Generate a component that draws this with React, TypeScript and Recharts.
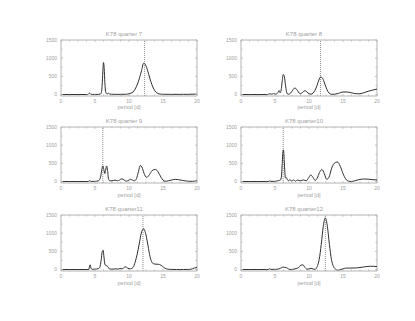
import React from 'react';
import { LineChart, Line, XAxis, YAxis, ReferenceLine } from 'recharts';

// ---------- data ----------
const titles = ['K78 quarter 7', 'K78 quarter 8', 'K78 quarter 9', 'K78 quarter10', 'K78 quarter11', 'K78 quarter12'];
const xLabel = 'period [d]';
const xTicks = [0, 5, 10, 15, 20];
const xMinorTicks = [0, 1.25, 2.5, 3.75, 5, 6.25, 7.5, 8.75, 10, 11.25, 12.5, 13.75, 15, 16.25, 17.5, 18.75, 20];
const yTicks = [0, 500, 1000, 1500];
const yMinorTicks = [0, 250, 500, 750, 1000, 1250, 1500];
const xDomain = [0, 20];
const yDomain = [-40, 1500];
const markPeriods = [12.3, 11.7, 6.15, 6.2, 12.05, 12.4];

const q7Period = [0, 3.8, 4.05, 4.2, 4.35, 4.6, 5.5, 5.8, 5.95, 6.05, 6.15, 6.25, 6.35, 6.45, 6.55, 6.7, 6.85, 7.0, 7.15, 7.4, 8.5, 9.5, 10.0, 10.3, 10.6, 10.9, 11.25, 11.55, 11.85, 12.15, 12.45, 12.75, 13.05, 13.35, 13.65, 13.95, 14.25, 14.6, 15.0, 16.0, 18.0, 20.0];
const q7Power = [0, 2, 15, 40, 12, 3, 5, 15, 60, 250, 620, 880, 720, 330, 90, 25, 20, 35, 15, 8, 5, 8, 20, 40, 70, 150, 290, 460, 660, 860, 810, 650, 455, 280, 150, 70, 30, 12, 8, 5, 5, 10];

const q8Period = [0, 3.9, 4.2, 4.5, 4.8, 5.1, 5.3, 5.45, 5.6, 5.75, 5.9, 6.05, 6.2, 6.35, 6.5, 6.65, 6.8, 7.0, 7.3, 7.6, 7.85, 8.05, 8.3, 8.55, 8.75, 9.0, 9.25, 9.45, 9.7, 10.0, 10.3, 10.6, 10.9, 11.2, 11.45, 11.7, 11.95, 12.2, 12.5, 12.8, 13.1, 13.4, 13.8, 14.3, 15.0, 15.6, 16.2, 16.8, 17.3, 18.0, 18.7, 19.4, 20.0];
const q8Power = [0, 0, 20, 10, 25, 10, 25, 60, 110, 50, 120, 350, 550, 520, 320, 120, 20, 10, 40, 120, 175, 170, 110, 40, 25, 50, 95, 105, 70, 20, 10, 40, 120, 260, 400, 480, 460, 360, 200, 80, 20, 5, 10, 30, 70, 70, 50, 25, 20, 45, 90, 125, 150];

const q9Period = [0, 4.0, 4.2, 4.4, 5.0, 5.5, 5.7, 5.85, 6.0, 6.15, 6.3, 6.45, 6.55, 6.7, 6.85, 7.0, 7.2, 7.5, 7.95, 8.3, 8.6, 8.95, 9.3, 9.6, 9.9, 10.2, 10.5, 10.8, 11.1, 11.4, 11.65, 11.9, 12.2, 12.6, 13.0, 13.4, 13.9, 14.3, 14.7, 15.0, 15.3, 15.8, 16.3, 16.8, 17.3, 17.9, 18.6, 19.3, 20.0];
const q9Power = [0, 0, 20, 5, 5, 20, 60, 150, 330, 430, 330, 220, 300, 430, 300, 60, 20, 20, 40, 20, 40, 75, 40, 10, 30, 60, 40, 20, 80, 280, 440, 400, 230, 115, 190, 300, 335, 260, 120, 40, 5, 20, 45, 60, 50, 30, 10, 5, 20];

const q10Period = [0, 4.0, 4.2, 4.4, 5.0, 5.5, 5.8, 5.95, 6.05, 6.15, 6.25, 6.35, 6.45, 6.55, 6.65, 6.8, 7.0, 7.2, 7.45, 7.7, 8.0, 8.3, 8.7, 9.2, 9.6, 9.9, 10.25, 10.6, 10.9, 11.2, 11.55, 11.9, 12.25, 12.6, 12.95, 13.3, 13.7, 14.15, 14.6, 15.0, 15.4, 15.8, 16.2, 16.7, 17.3, 18.0, 18.7, 19.4, 20.0];
const q10Power = [0, 0, 15, 5, 5, 25, 40, 150, 450, 800, 870, 600, 250, 100, 115, 60, 20, 50, 15, 45, 10, 40, 20, 45, 20, 90, 180, 110, 30, 90, 250, 330, 220, 60, 120, 350, 500, 540, 420, 220, 70, 10, 0, 20, 50, 70, 65, 50, 45];

const q11Period = [0, 4.1, 4.2, 4.3, 4.4, 4.6, 5.2, 5.5, 5.7, 5.9, 6.05, 6.2, 6.3, 6.45, 6.6, 6.75, 6.9, 7.1, 7.5, 8.1, 8.4, 8.7, 9.0, 9.45, 9.8, 10.2, 10.6, 10.9, 11.2, 11.5, 11.8, 12.15, 12.5, 12.8, 13.1, 13.4, 13.8, 14.3, 14.7, 15.1, 15.5, 16.0, 17.0, 18.0, 19.0, 19.6, 20.0];
const q11Power = [0, 0, 100, 130, 40, 5, 15, 25, 60, 250, 480, 530, 380, 150, 110, 100, 80, 20, 10, 20, 10, 30, 20, 75, 40, 20, 60, 200, 420, 700, 1000, 1120, 950, 650, 350, 190, 150, 145, 120, 60, 20, 5, 0, 0, 5, 40, 60];

const q12Period = [0, 4.0, 4.2, 4.4, 5.0, 5.5, 5.8, 6.0, 6.2, 6.4, 6.7, 7.0, 7.4, 7.8, 8.1, 8.5, 8.8, 9.1, 9.4, 9.7, 10.0, 10.3, 10.6, 10.9, 11.2, 11.5, 11.8, 12.1, 12.4, 12.7, 13.0, 13.3, 13.6, 13.9, 14.2, 14.5, 15.0, 15.5, 16.0, 17.0, 18.0, 19.0, 19.5, 20.0];
const q12Power = [0, 0, 20, 5, 5, 15, 35, 55, 70, 60, 50, 15, 0, 15, 25, 60, 120, 130, 60, 10, 15, 35, 15, 5, 80, 280, 690, 1190, 1420, 1190, 690, 280, 80, 15, -20, -10, 20, 40, 40, 45, 70, 90, 90, 80];

const periods = [q7Period, q8Period, q9Period, q10Period, q11Period, q12Period];
const powers = [q7Power, q8Power, q9Power, q10Power, q11Power, q12Power];

// ---------- layout ----------
const PLOT_W = 136;
const PLOT_H = 56;
const ML = 30, MT = 10, MR = 8, MB = 12;
const colLefts = [61, 241];
const rowTops = [39.5, 127, 215];

const AX = '#b4b4b4';
const TXT = '#a0a0a0';
const LINE = '#303030';
const FONT = '"Liberation Sans", Arial, sans-serif';
const MAJOR = 2;
const MINOR = 1.5;

// custom x tick: draws bottom + top tick marks and the label for major ticks
function XTick(props: any) {
  const { x, y, payload } = props;
  const v = payload.value;
  const major = xTicks.includes(v);
  const len = major ? MAJOR : MINOR;
  const top = y - PLOT_H;
  return (
    <g>
      <line x1={x} y1={y} x2={x} y2={y - len} stroke={AX} strokeWidth={0.8} />
      <line x1={x} y1={top} x2={x} y2={top + len} stroke={AX} strokeWidth={0.8} />
      {major && (
        <text x={x} y={y + 7} textAnchor="middle" fill={TXT} fontSize={5} fontFamily={FONT}>{v}</text>
      )}
    </g>
  );
}

function YTick(props: any) {
  const { x, y, payload } = props;
  const v = payload.value;
  const major = yTicks.includes(v);
  const len = major ? MAJOR : MINOR;
  const right = x + PLOT_W;
  return (
    <g>
      <line x1={x} y1={y} x2={x + len} y2={y} stroke={AX} strokeWidth={0.8} />
      <line x1={right} y1={y} x2={right - len} y2={y} stroke={AX} strokeWidth={0.8} />
      {major && (
        <text x={x - 4} y={y + 1.8} textAnchor="end" fill={TXT} fontSize={5} fontFamily={FONT}>{v}</text>
      )}
    </g>
  );
}

type PanelProps = { left: number; top: number; title: string; period: number[]; power: number[]; mark: number };

function Panel({ left, top, title, period, power, mark }: PanelProps) {
  const data = period.map((p, i) => ({ p, v: power[i] }));
  const W = PLOT_W + ML + MR;
  const H = PLOT_H + MT + MB;
  return (
    <>
      <div
        style={{
          position: 'absolute', left: left + PLOT_W / 2 - 5 - 60, top: top - 9, width: 120,
          textAlign: 'center', fontSize: 6, lineHeight: '6px', color: TXT, fontFamily: FONT, whiteSpace: 'pre',
        }}
      >
        {title}
      </div>
      <div
        style={{
          position: 'absolute', left: left + PLOT_W / 2 - 60, top: top + PLOT_H + 8.5, width: 120,
          textAlign: 'center', fontSize: 5.5, lineHeight: '6px', color: TXT, fontFamily: FONT,
        }}
      >
        {xLabel}
      </div>
      <div style={{ position: 'absolute', left: left - ML, top: top - MT, width: W, height: H }}>
        <LineChart width={W} height={H} data={data} margin={{ top: MT, left: ML - 1, right: MR, bottom: MB - 1 }}>
          <XAxis dataKey="p" type="number" domain={xDomain} ticks={xMinorTicks} interval={0}
            orientation="bottom" height={1} tickSize={0} tickMargin={0} tickLine={false}
            axisLine={{ stroke: AX, strokeWidth: 1 }} tick={<XTick />} allowDataOverflow />
          <YAxis type="number" domain={yDomain} ticks={yMinorTicks} interval={0}
            orientation="left" width={1} tickSize={0} tickMargin={0} tickLine={false}
            axisLine={{ stroke: AX, strokeWidth: 1 }} tick={<YTick />} allowDataOverflow />
          <ReferenceLine y={yDomain[1]} stroke={AX} strokeWidth={1} />
          <ReferenceLine x={xDomain[1]} stroke={AX} strokeWidth={1} />
          <ReferenceLine x={mark} stroke="#8a8a8a" strokeWidth={1} strokeDasharray="1 1" />
          <Line type="monotone" dataKey="v" stroke={LINE} strokeWidth={1}
            dot={false} isAnimationActive={false} />
        </LineChart>
      </div>
    </>
  );
}

export default function App() {
  return (
    <div style={{ position: 'absolute', left: 0, top: 0, width: 415, height: 321, background: '#fff', overflow: 'hidden' }}>
      {titles.map((t, i) => (
        <Panel
          key={t}
          left={colLefts[i % 2]}
          top={rowTops[Math.floor(i / 2)]}
          title={t}
          period={periods[i]}
          power={powers[i]}
          mark={markPeriods[i]}
        />
      ))}
    </div>
  );
}
